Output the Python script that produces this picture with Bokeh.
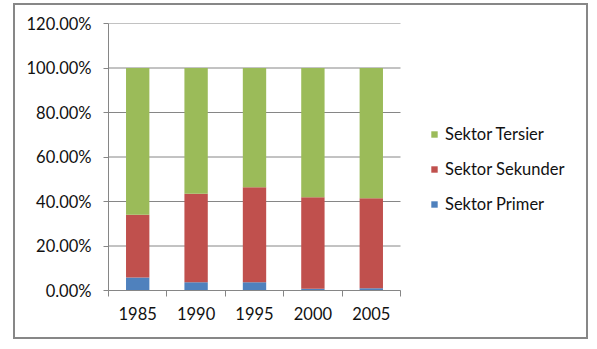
from bokeh.plotting import figure
from bokeh.models import (ColumnDataSource, Legend, LegendItem, FixedTicker,
                          NumeralTickFormatter, Range1d)
from bokeh.embed import file_html
from bokeh.resources import INLINE

years = ["1985", "1990", "1995", "2000", "2005"]
primer = [0.058, 0.037, 0.037, 0.008, 0.010]
sekunder = [0.282, 0.398, 0.427, 0.411, 0.405]
tersier = [0.660, 0.565, 0.536, 0.581, 0.585]
y_ticks = [0.0, 0.2, 0.4, 0.6, 0.8, 1.0, 1.2]

colors = ["#4F81BD", "#C0504D", "#9BBB59"]
names = ["Sektor Primer", "Sektor Sekunder", "Sektor Tersier"]
FONT = "Lato"
GREY = "#868686"
TXT = "#111111"

n = len(years)
centers = [i + 0.5 for i in range(n)]
src = ColumnDataSource(dict(x=centers, primer=primer, sekunder=sekunder, tersier=tersier))

# frame spans plot area + legend area; bars occupy first 292px of the frame
FRAME_W, PLOT_W = 478, 292
p = figure(output_backend="svg", toolbar_location=None,
           x_range=Range1d(0, n * FRAME_W / PLOT_W), y_range=Range1d(0, 1.2),
           min_border_left=93, min_border_top=18, min_border_right=0, min_border_bottom=47)
p.frame_width = FRAME_W
p.frame_height = 267
p.styles = {"margin-left": "13px", "margin-top": "3px", "border": "2px solid #878787"}
p.outline_line_color = None
p.background_fill_color = "white"
p.border_fill_color = "white"

# horizontal gridlines limited to plot area
p.segment(x0=[0] * len(y_ticks), x1=[n] * len(y_ticks), y0=y_ticks, y1=y_ticks,
          line_color=GREY, line_width=1)

rs = p.vbar_stack(["primer", "sekunder", "tersier"], x="x", width=0.4, source=src,
                  color=colors, line_color=None)

# y axis
p.yaxis.ticker = FixedTicker(ticks=y_ticks)
p.yaxis.formatter = NumeralTickFormatter(format="0.00%")
p.yaxis.axis_line_color = GREY
p.yaxis.major_tick_line_color = GREY
p.yaxis.major_tick_out = 5
p.yaxis.major_tick_in = 0
p.yaxis.minor_tick_line_color = None
p.yaxis.major_label_text_font = FONT
p.yaxis.major_label_text_font_size = "16.5px"
p.yaxis.major_label_text_color = TXT
p.yaxis.major_label_standoff = 12

# x axis: labels at centres, ticks at boundaries
p.xaxis.bounds = (0, n)
p.xaxis.ticker = FixedTicker(ticks=centers, minor_ticks=list(range(n + 1)))
p.xaxis.major_label_overrides = {c: y for c, y in zip(centers, years)}
p.xaxis.major_tick_line_color = None
p.xaxis.minor_tick_line_color = GREY
p.xaxis.minor_tick_out = 6
p.xaxis.minor_tick_in = 0
p.xaxis.axis_line_color = GREY
p.xaxis.major_label_text_font = FONT
p.xaxis.major_label_text_font_size = "16.5px"
p.xaxis.major_label_text_color = TXT
p.xaxis.major_label_standoff = 10

p.xgrid.grid_line_color = None
p.ygrid.grid_line_color = None

items = [LegendItem(label=nm, renderers=[r]) for nm, r in zip(names, rs)][::-1]
legend = Legend(items=items, location=(322, 76), glyph_width=8, glyph_height=8,
                label_text_font=FONT, label_text_font_size="16.5px", label_text_color=TXT,
                label_height=20, spacing=15, border_line_color=None,
                background_fill_alpha=0, label_standoff=7, padding=0, margin=0)
p.add_layout(legend, "center")

open("out.html", "w").write(file_html(p, INLINE))
